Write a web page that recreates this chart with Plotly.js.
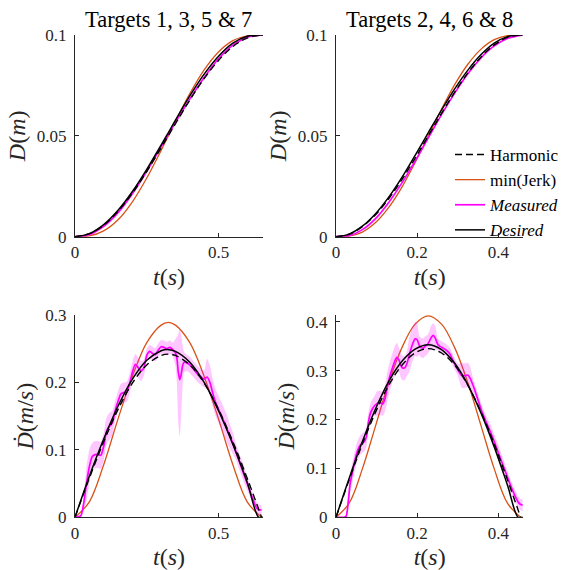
<!DOCTYPE html>
<html>
<head>
<meta charset="utf-8">
<script src="https://cdn.plot.ly/plotly-3.0.1.min.js"></script>
<style>html,body{margin:0;padding:0;background:#fff;}#chart{width:582px;height:570px;}</style>
</head>
<body>
<div id="chart"></div>
<script>
// ---------- Data ----------
const panelTitles = ["Targets 1, 3, 5 & 7", "Targets 2, 4, 6 & 8"];
const seriesNames = ["Harmonic", "min(Jerk)", "<i>Measured</i>", "<i>Desired</i>"];

// Left column (targets 1,3,5,7)
const tL = [0, 0.05, 0.10, 0.15, 0.20, 0.25, 0.30, 0.325, 0.35, 0.40, 0.45, 0.50, 0.55, 0.60, 0.65];
const harmPosL = [0, 0.0015, 0.0057, 0.0126, 0.0216, 0.0323, 0.0440, 0.0500, 0.0560, 0.0677, 0.0784, 0.0874, 0.0943, 0.0985, 0.1];
const jerkPosL = [0, 0.0004, 0.0029, 0.0084, 0.0173, 0.0291, 0.0428, 0.0500, 0.0572, 0.0709, 0.0827, 0.0916, 0.0972, 0.0996, 0.1];
const harmVelL = [0, 0.058, 0.112, 0.160, 0.199, 0.226, 0.240, 0.242, 0.240, 0.226, 0.199, 0.160, 0.112, 0.058, 0];
const jerkVelL = [0, 0.023, 0.078, 0.146, 0.209, 0.259, 0.285, 0.289, 0.285, 0.259, 0.209, 0.146, 0.078, 0.023, 0];

const tDesL = [0, 0.05, 0.10, 0.15, 0.20, 0.25, 0.30, 0.32, 0.35, 0.40, 0.45, 0.50, 0.55, 0.60, 0.64, 0.655];
const desPosL = [0, 0.0015, 0.0060, 0.0131, 0.0224, 0.0334, 0.0454, 0.0503, 0.0578, 0.0698, 0.0806, 0.0895, 0.0960, 0.0994, 0.1, 0.1];
const desVelL = [0, 0.061, 0.116, 0.165, 0.205, 0.233, 0.247, 0.249, 0.246, 0.230, 0.200, 0.158, 0.108, 0.052, 0, 0];

const tMeasPosL = [0, 0.05, 0.10, 0.15, 0.20, 0.25, 0.30, 0.35, 0.40, 0.45, 0.50, 0.55, 0.60, 0.655];
const measPosL = [0, 0.0010, 0.0051, 0.0119, 0.0213, 0.0324, 0.0445, 0.0567, 0.0682, 0.0789, 0.0882, 0.0950, 0.0989, 0.1];

const tMeasVelL = [0, 0.02, 0.03, 0.04, 0.05, 0.06, 0.07, 0.08, 0.09, 0.10, 0.11, 0.12, 0.13, 0.14, 0.15, 0.16, 0.17, 0.18, 0.19, 0.20,
  0.21, 0.22, 0.23, 0.24, 0.25, 0.26, 0.27, 0.28, 0.29, 0.30, 0.31, 0.32, 0.33, 0.34, 0.35, 0.355, 0.36, 0.365, 0.37, 0.375,
  0.38, 0.39, 0.40, 0.41, 0.42, 0.43, 0.44, 0.45, 0.46, 0.47, 0.48, 0.49, 0.50, 0.51, 0.52, 0.53, 0.54, 0.55, 0.56, 0.57,
  0.58, 0.59, 0.60, 0.61, 0.62, 0.63, 0.64, 0.65];
const measVelL = [0, 0.002, 0.020, 0.050, 0.075, 0.090, 0.093, 0.093, 0.092, 0.105, 0.128, 0.135, 0.140, 0.158, 0.172, 0.183, 0.185, 0.186, 0.198, 0.215,
  0.227, 0.222, 0.217, 0.222, 0.240, 0.246, 0.243, 0.241, 0.248, 0.253, 0.252, 0.250, 0.252, 0.249, 0.244, 0.236, 0.215, 0.204, 0.212, 0.225,
  0.230, 0.229, 0.226, 0.221, 0.216, 0.211, 0.208, 0.205, 0.208, 0.200, 0.184, 0.170, 0.160, 0.151, 0.141, 0.131, 0.120, 0.110, 0.098, 0.086,
  0.074, 0.062, 0.050, 0.038, 0.027, 0.016, 0.011, 0.011];
const measVelLoL = [0, 0.000, 0.010, 0.025, 0.050, 0.070, 0.073, 0.073, 0.072, 0.085, 0.108, 0.115, 0.122, 0.143, 0.157, 0.168, 0.170, 0.171, 0.183, 0.200,
  0.212, 0.207, 0.202, 0.210, 0.230, 0.236, 0.233, 0.231, 0.238, 0.243, 0.242, 0.240, 0.242, 0.239, 0.224, 0.200, 0.140, 0.120, 0.150, 0.195,
  0.215, 0.217, 0.214, 0.209, 0.204, 0.199, 0.196, 0.193, 0.190, 0.180, 0.164, 0.150, 0.140, 0.131, 0.121, 0.111, 0.102, 0.094, 0.086, 0.074,
  0.062, 0.050, 0.040, 0.030, 0.019, 0.008, 0.003, 0.004];
const measVelHiL = [0, 0.004, 0.030, 0.075, 0.100, 0.110, 0.113, 0.113, 0.112, 0.125, 0.148, 0.155, 0.158, 0.173, 0.187, 0.198, 0.200, 0.201, 0.213, 0.230,
  0.242, 0.237, 0.232, 0.234, 0.250, 0.256, 0.253, 0.251, 0.258, 0.263, 0.262, 0.260, 0.262, 0.259, 0.264, 0.268, 0.272, 0.280, 0.270, 0.255,
  0.245, 0.241, 0.238, 0.233, 0.228, 0.223, 0.220, 0.217, 0.235, 0.225, 0.204, 0.190, 0.180, 0.171, 0.161, 0.151, 0.138, 0.126, 0.110, 0.098,
  0.086, 0.074, 0.060, 0.046, 0.035, 0.024, 0.019, 0.018];

// Right column (targets 2,4,6,8)
const tR = [0, 0.0325, 0.065, 0.0975, 0.13, 0.1625, 0.195, 0.2275, 0.26, 0.2925, 0.325, 0.3575, 0.39, 0.4225, 0.455];
const harmPosR = [0, 0.0012, 0.0050, 0.0109, 0.0188, 0.0283, 0.0389, 0.0500, 0.0611, 0.0717, 0.0812, 0.0891, 0.0951, 0.0988, 0.1];
const jerkPosR = [0, 0.0003, 0.0023, 0.0070, 0.0145, 0.0246, 0.0368, 0.0500, 0.0632, 0.0754, 0.0855, 0.0930, 0.0977, 0.0997, 0.1];
const harmVelR = [0, 0.077, 0.150, 0.215, 0.270, 0.311, 0.336, 0.345, 0.336, 0.311, 0.270, 0.215, 0.150, 0.077, 0];
const jerkVelR = [0, 0.029, 0.099, 0.187, 0.275, 0.347, 0.395, 0.412, 0.395, 0.347, 0.275, 0.187, 0.099, 0.029, 0];

const tDesR = [0, 0.0325, 0.065, 0.0975, 0.13, 0.1625, 0.195, 0.2275, 0.26, 0.2925, 0.325, 0.3575, 0.39, 0.4225, 0.449, 0.46];
const desPosR = [0, 0.0013, 0.0052, 0.0114, 0.0196, 0.0294, 0.0403, 0.0516, 0.0628, 0.0733, 0.0826, 0.0903, 0.0960, 0.0992, 0.1, 0.1];
const desVelR = [0, 0.080, 0.155, 0.222, 0.278, 0.319, 0.344, 0.353, 0.343, 0.315, 0.271, 0.213, 0.144, 0.066, 0, 0];

const tMeasPosR = [0, 0.0325, 0.065, 0.0975, 0.13, 0.1625, 0.195, 0.2275, 0.26, 0.2925, 0.325, 0.3575, 0.39, 0.4225, 0.46];
const measPosR = [0, 0.0005, 0.0035, 0.0090, 0.0170, 0.0267, 0.0375, 0.0490, 0.0605, 0.0712, 0.0808, 0.0887, 0.0946, 0.0983, 0.1];

const tMeasVelR = [0, 0.02, 0.025, 0.03, 0.035, 0.04, 0.045, 0.05, 0.055, 0.06, 0.065, 0.07, 0.075, 0.08, 0.085, 0.09, 0.095, 0.10, 0.105, 0.11,
  0.115, 0.12, 0.125, 0.13, 0.135, 0.14, 0.145, 0.15, 0.155, 0.16, 0.165, 0.17, 0.175, 0.18, 0.185, 0.19, 0.195, 0.20, 0.205, 0.21,
  0.215, 0.22, 0.225, 0.23, 0.235, 0.24, 0.245, 0.25, 0.255, 0.26, 0.27, 0.28, 0.29, 0.30, 0.31, 0.32, 0.325, 0.33, 0.34, 0.35,
  0.36, 0.37, 0.38, 0.39, 0.40, 0.41, 0.42, 0.43, 0.44, 0.45, 0.455, 0.46];
const measVelR = [0, 0, 0.002, 0.030, 0.070, 0.090, 0.110, 0.128, 0.140, 0.148, 0.152, 0.155, 0.165, 0.195, 0.213, 0.222, 0.228, 0.232, 0.234, 0.234,
  0.232, 0.240, 0.260, 0.280, 0.295, 0.308, 0.320, 0.327, 0.322, 0.310, 0.305, 0.306, 0.315, 0.330, 0.345, 0.357, 0.365, 0.363, 0.352, 0.347,
  0.346, 0.350, 0.353, 0.360, 0.368, 0.372, 0.366, 0.355, 0.350, 0.348, 0.343, 0.335, 0.318, 0.302, 0.290, 0.290, 0.291, 0.285, 0.265, 0.240,
  0.215, 0.195, 0.176, 0.155, 0.132, 0.110, 0.088, 0.066, 0.046, 0.030, 0.026, 0.025];
const measVelLoR = [0, 0, 0, 0.012, 0.050, 0.070, 0.090, 0.108, 0.120, 0.128, 0.132, 0.135, 0.145, 0.175, 0.193, 0.202, 0.208, 0.207, 0.209, 0.209,
  0.207, 0.215, 0.230, 0.250, 0.265, 0.278, 0.290, 0.297, 0.297, 0.285, 0.280, 0.281, 0.290, 0.295, 0.310, 0.322, 0.330, 0.328, 0.332, 0.327,
  0.326, 0.330, 0.333, 0.340, 0.343, 0.347, 0.341, 0.343, 0.338, 0.336, 0.331, 0.323, 0.306, 0.290, 0.265, 0.265, 0.266, 0.260, 0.253, 0.228,
  0.203, 0.183, 0.161, 0.140, 0.117, 0.095, 0.076, 0.054, 0.034, 0.018, 0.014, 0.013];
const measVelHiR = [0, 0, 0.004, 0.048, 0.090, 0.110, 0.130, 0.148, 0.160, 0.168, 0.172, 0.175, 0.185, 0.215, 0.233, 0.242, 0.248, 0.257, 0.259, 0.259,
  0.257, 0.265, 0.290, 0.310, 0.325, 0.338, 0.350, 0.357, 0.347, 0.335, 0.330, 0.331, 0.340, 0.365, 0.380, 0.392, 0.400, 0.398, 0.372, 0.367,
  0.366, 0.370, 0.373, 0.380, 0.393, 0.397, 0.391, 0.367, 0.362, 0.360, 0.355, 0.347, 0.330, 0.314, 0.315, 0.315, 0.316, 0.310, 0.277, 0.252,
  0.227, 0.207, 0.191, 0.170, 0.147, 0.125, 0.100, 0.078, 0.058, 0.042, 0.038, 0.037];

// Tick labels
const posTickVals = [0, 0.05, 0.1];
const posTickText = ["0", "0.05", "0.1"];
const velTickValsL = [0, 0.1, 0.2, 0.3];
const velTickTextL = ["0", "0.1", "0.2", "0.3"];
const velTickValsR = [0, 0.1, 0.2, 0.3, 0.4];
const velTickTextR = ["0", "0.1", "0.2", "0.3", "0.4"];
const tTickValsL = [0, 0.5];
const tTickTextL = ["0", "0.5"];
const tTickValsR = [0, 0.2, 0.4];
const tTickTextR = ["0", "0.2", "0.4"];

// ---------- Styling ----------
const FONT = "Liberation Serif, Times New Roman, serif";
const AX = "#262626";
const C_JERK = "#D95319";
const C_MEAS = "#FF00FF";
const C_BAND = "rgba(255,0,255,0.22)";
const C_DES = "#000000";
const C_HARM = "#000000";

function panel(xa, ya, t, harm, jerk, tDes, des, tMeas, meas, lo, hi, legend) {
  const traces = [];
  traces.push({x: t, y: jerk, xaxis: xa, yaxis: ya, type: "scatter", mode: "lines", name: seriesNames[1],
    legendrank: 2, showlegend: legend, line: {color: C_JERK, width: 1.3, shape: "spline", smoothing: 1}});
  if (lo && hi) {
    traces.push({x: tMeas, y: lo, xaxis: xa, yaxis: ya, type: "scatter", mode: "lines", showlegend: false,
      hoverinfo: "skip", line: {width: 0, color: C_BAND, shape: "spline", smoothing: 0.6}});
    traces.push({x: tMeas, y: hi, xaxis: xa, yaxis: ya, type: "scatter", mode: "lines", showlegend: false,
      hoverinfo: "skip", fill: "tonexty", fillcolor: C_BAND, line: {width: 0, color: C_BAND, shape: "spline", smoothing: 0.6}});
  }
  traces.push({x: tMeas, y: meas, xaxis: xa, yaxis: ya, type: "scatter", mode: "lines", name: seriesNames[2],
    legendrank: 3, showlegend: legend, line: {color: C_MEAS, width: 1.7, shape: "spline", smoothing: 0.6}});
  traces.push({x: tDes, y: des, xaxis: xa, yaxis: ya, type: "scatter", mode: "lines", name: seriesNames[3],
    legendrank: 4, showlegend: legend, line: {color: C_DES, width: 1.5, shape: "spline", smoothing: 1}});
  traces.push({x: t, y: harm, xaxis: xa, yaxis: ya, type: "scatter", mode: "lines", name: seriesNames[0],
    legendrank: 1, showlegend: legend, line: {color: C_HARM, width: 1.4, dash: "7px,4px", shape: "spline", smoothing: 1}});
  return traces;
}

const data = [].concat(
  panel("x", "y", tL, harmPosL, jerkPosL, tDesL, desPosL, tMeasPosL, measPosL, null, null, false),
  panel("x2", "y2", tR, harmPosR, jerkPosR, tDesR, desPosR, tMeasPosR, measPosR, null, null, true),
  panel("x3", "y3", tL, harmVelL, jerkVelL, tDesL, desVelL, tMeasVelL, measVelL, measVelLoL, measVelHiL, false),
  panel("x4", "y4", tR, harmVelR, jerkVelR, tDesR, desVelR, tMeasVelR, measVelR, measVelLoR, measVelHiR, false)
);

function xAxis(domain, anchor, range, vals, text) {
  return {domain: domain, anchor: anchor, range: range, tickmode: "array", tickvals: vals, ticktext: text,
    showline: true, linecolor: AX, linewidth: 1, ticks: "inside", ticklen: 4, tickcolor: AX, tickwidth: 1,
    showgrid: false, zeroline: false, tickfont: {family: FONT, size: 17, color: AX},
    title: {text: "<i>t</i>(<i>s</i>)", font: {family: FONT, size: 24, color: AX}, standoff: 7}};
}
function yAxis(domain, anchor, range, vals, text, title) {
  return {domain: domain, anchor: anchor, range: range, tickmode: "array", tickvals: vals, ticktext: text,
    showline: true, linecolor: AX, linewidth: 1, ticks: "inside", ticklen: 4, tickcolor: AX, tickwidth: 1,
    showgrid: false, zeroline: false, tickfont: {family: FONT, size: 17, color: AX}, ticklabelstandoff: 4,
    title: {text: title, font: {family: FONT, size: 24, color: AX}, standoff: 4}};
}

const xdL = [75 / 582, 263 / 582];
const xdR = [336 / 582, 523.3 / 582];
const ydT = [1 - 236.7 / 570, 1 - 35 / 570];
const ydB = [1 - 517.3 / 570, 1 - 315 / 570];

const posTitle = "<i>D</i>(<i>m</i>)";
const velTitle = "<i>Ḋ</i>(<i>m</i>/<i>s</i>)";

const layout = {
  width: 582, height: 570,
  margin: {l: 0, r: 0, t: 0, b: 0},
  paper_bgcolor: "#ffffff", plot_bgcolor: "#ffffff",
  font: {family: FONT, color: AX},
  showlegend: true,
  legend: {x: 450 / 582, xanchor: "left", y: 1 - 137 / 570, yanchor: "top", bgcolor: "rgba(0,0,0,0)",
    borderwidth: 0, font: {family: FONT, size: 17, color: "#000"}, itemwidth: 30, tracegroupgap: 0,
    traceorder: "normal"},
  xaxis: xAxis(xdL, "y", [0, 0.655], tTickValsL, tTickTextL),
  yaxis: yAxis(ydT, "x", [0, 0.1], posTickVals, posTickText, posTitle),
  xaxis2: xAxis(xdR, "y2", [0, 0.4616], tTickValsR, tTickTextR),
  yaxis2: yAxis(ydT, "x2", [0, 0.1], posTickVals, posTickText, posTitle),
  xaxis3: xAxis(xdL, "y3", [0, 0.655], tTickValsL, tTickTextL),
  yaxis3: yAxis(ydB, "x3", [0, 0.3], velTickValsL, velTickTextL, velTitle),
  xaxis4: xAxis(xdR, "y4", [0, 0.4616], tTickValsR, tTickTextR),
  yaxis4: yAxis(ydB, "x4", [0, 0.4137], velTickValsR, velTickTextR, velTitle),
  annotations: [
    {text: panelTitles[0], xref: "paper", yref: "paper", x: (xdL[0] + xdL[1]) / 2, y: ydT[1], xanchor: "center", yanchor: "bottom",
      yshift: 1, showarrow: false, font: {family: FONT, size: 22.5, color: "#000"}},
    {text: panelTitles[1], xref: "paper", yref: "paper", x: (xdR[0] + xdR[1]) / 2, y: ydT[1], xanchor: "center", yanchor: "bottom",
      yshift: 1, showarrow: false, font: {family: FONT, size: 22.5, color: "#000"}}
  ]
};

Plotly.newPlot("chart", data, layout, {staticPlot: true, displayModeBar: false});
</script>
</body>
</html>
